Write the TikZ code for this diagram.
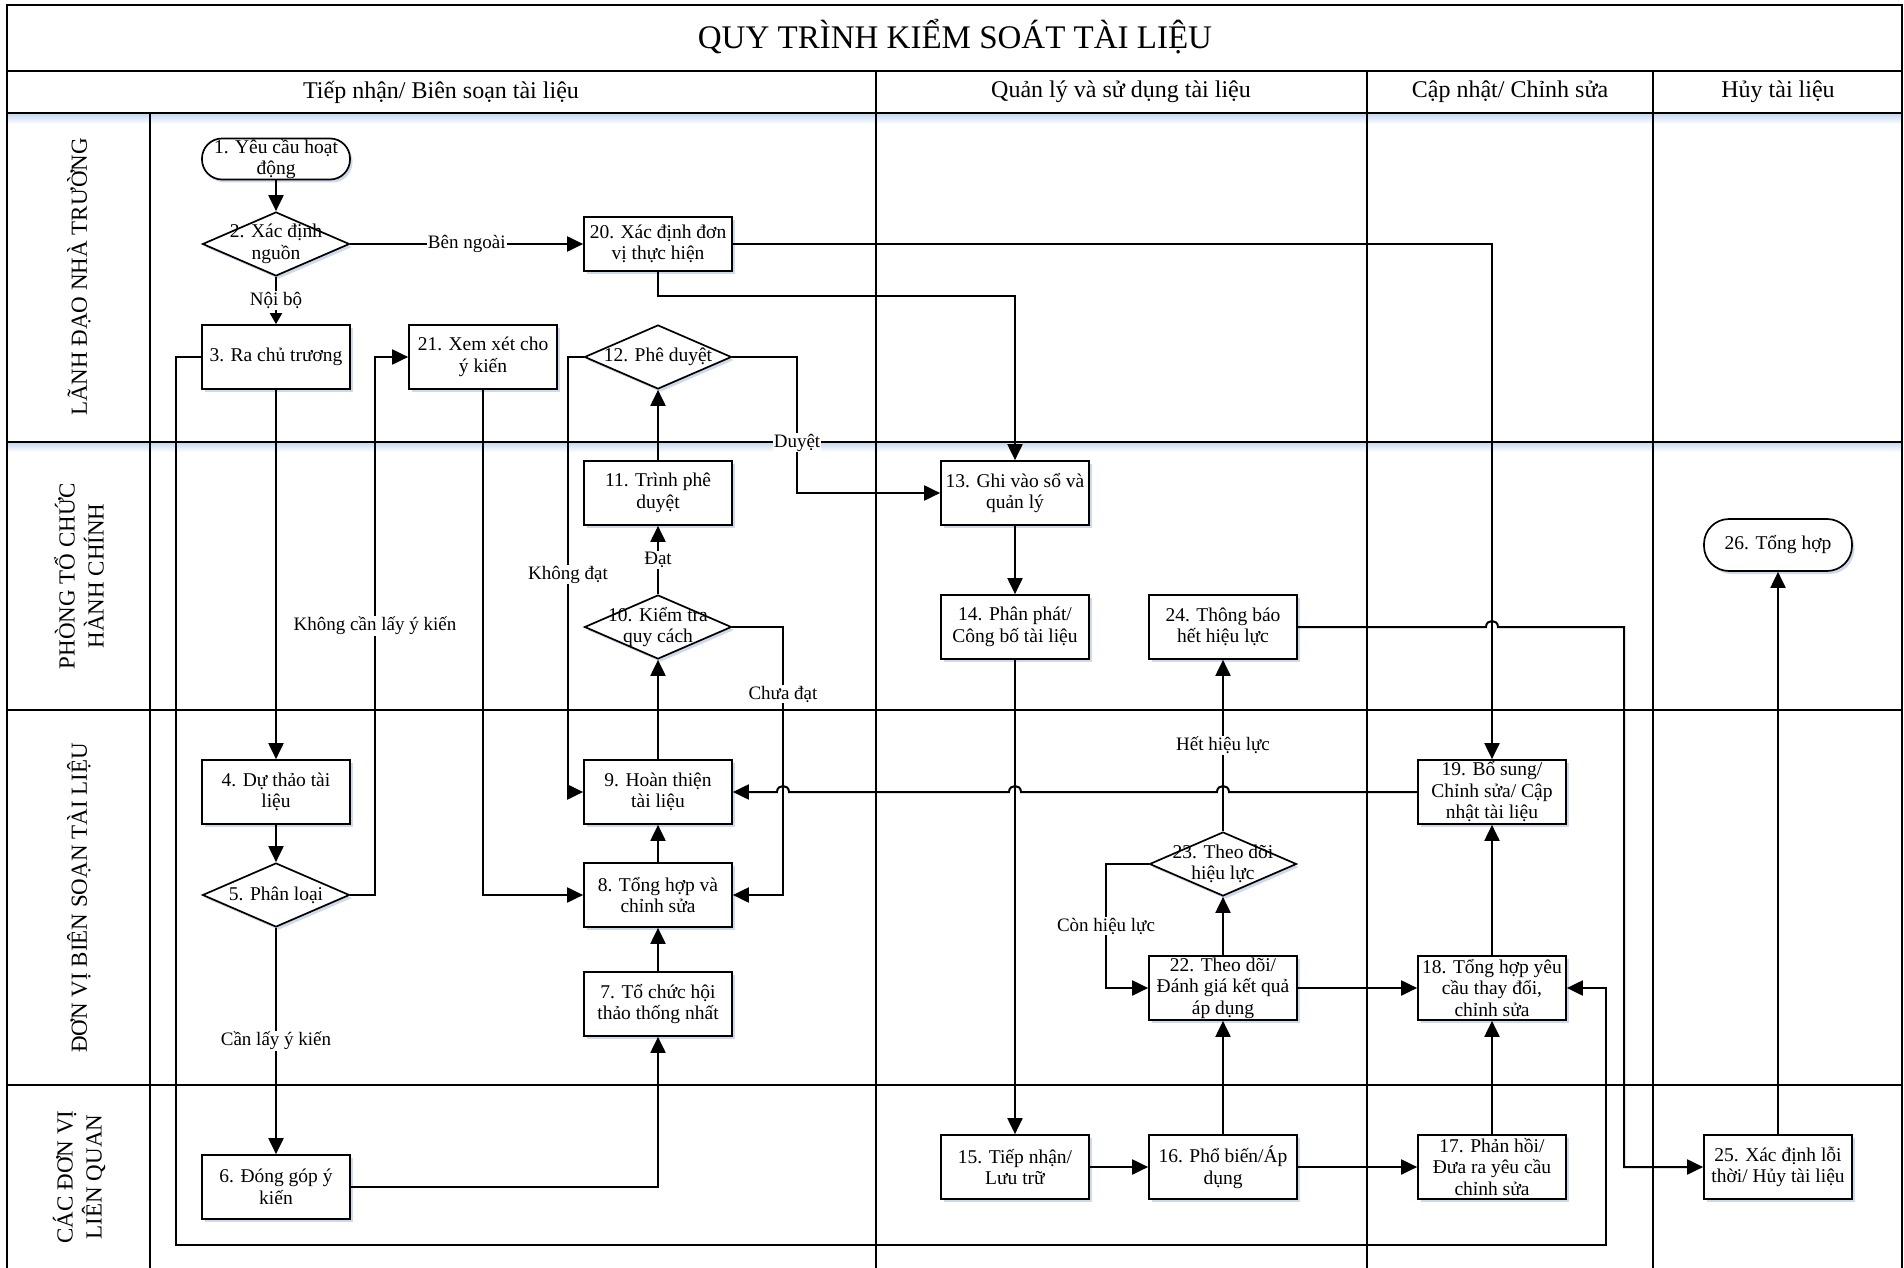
\documentclass[tikz,border=0pt]{standalone}
\usepackage{fontspec}
\setmainfont{Liberation Serif}
\usetikzlibrary{arrows.meta,shapes.geometric,shadows}
\definecolor{shadowc}{RGB}{165,185,215}
\definecolor{glowc}{RGB}{200,218,240}
\begin{document}
\begin{tikzpicture}[x=1pt,y=-1pt,
  nodefont/.style={font=\fontsize{19.5}{21.5}\selectfont},
  shad/.style={drop shadow={shadow xshift=2.5pt,shadow yshift=-3pt,fill=shadowc,opacity=0.55}},
  box/.style={rectangle,draw,line width=1.7pt,fill=white,minimum width=148pt,minimum height=64pt,inner sep=0pt,align=center,nodefont,shad},
  term/.style={box,rounded corners=20pt,minimum height=41pt},
  dmd/.style={diamond,draw,line width=1.7pt,fill=white,minimum width=147pt,minimum height=64pt,inner sep=0pt,shad,label={[nodefont,align=center,inner sep=0pt]center:{#1}}},
  lab/.style={fill=white,inner sep=1pt,font=\fontsize{19}{21}\selectfont},
  conn/.style={line width=2pt,-{Triangle[length=16pt,width=15pt]}},
  connsmall/.style={line width=2pt,-{Triangle[length=11pt,width=12pt]}},
  lanefont/.style={font=\fontsize{23}{29}\selectfont},
  struct/.style={line width=2.3pt},
  divider/.style={line width=1.5pt},
]
\useasboundingbox (0,0) rectangle (1904,1268);
\clip (0,0) rectangle (1904,1268);

% glow under header / lane lines
\shade[top color=glowc, bottom color=white] (8,114) rectangle (1901,124);
\shade[top color=glowc, bottom color=white] (8,443) rectangle (1901,452);

% frame
\draw[struct] (7,5) rectangle (1902,1280);
\draw[struct] (7,71) -- (1902,71);
\draw[struct] (7,113) -- (1902,113);
\draw[divider] (876,71) -- (876,1280);
\draw[divider] (1367,71) -- (1367,1280);
\draw[divider] (1653,71) -- (1653,1280);
\draw[struct] (150,113) -- (150,1280);
\draw[struct] (7,442) -- (1902,442);
\draw[struct] (7,710) -- (1902,710);
\draw[struct] (7,1085) -- (1902,1085);

% titles
\node[font=\fontsize{33}{36}\selectfont] (title) at (955,37) {QUY TRÌNH KIỂM SOÁT TÀI LIỆU};
\node[font=\fontsize{24}{26}\selectfont] (h1) at (441,92) {Tiếp nhận/ Biên soạn tài liệu};
\node[font=\fontsize{24}{26}\selectfont] (h2) at (1121,92) {Quản lý và sử dụng tài liệu};
\node[font=\fontsize{24}{26}\selectfont] (h3) at (1510,92) {Cập nhật/ Chỉnh sửa};
\node[font=\fontsize{24}{26}\selectfont] (h4) at (1778,92) {Hủy tài liệu};

% lane labels
\node[lanefont,rotate=90,align=center] (L1) at (79,277) {LÃNH ĐẠO NHÀ TRƯỜNG};
\node[lanefont,rotate=90,align=center] (L2) at (79,576) {PHÒNG TỔ CHỨC\\HÀNH CHÍNH};
\node[lanefont,rotate=90,align=center] (L3) at (79,898) {ĐƠN VỊ BIÊN SOẠN TÀI LIỆU};
\node[lanefont,rotate=90,align=center] (L4) at (79,1177) {CÁC ĐƠN VỊ\\LIÊN QUAN};

% nodes
\node[term] (n1) at (276,159) {1. Yêu cầu hoạt\\động};
\node[dmd={2. Xác định\\nguồn}] (n2) at (276,244) {};
\node[box,minimum height=54pt] (n20) at (658,244) {20. Xác định đơn\\vị thực hiện};
\node[box] (n3) at (276,357) {3. Ra chủ trương};
\node[box] (n21) at (483,357) {21. Xem xét cho\\ý kiến};
\node[dmd={12. Phê duyệt}] (n12) at (658,357) {};
\node[box] (n11) at (658,493) {11. Trình phê\\duyệt};
\node[dmd={10. Kiểm tra\\quy cách}] (n10) at (658,627) {};
\node[box] (n13) at (1015,493) {13. Ghi vào sổ và\\quản lý};
\node[box] (n14) at (1015,627) {14. Phân phát/\\Công bố tài liệu};
\node[box] (n24) at (1223,627) {24. Thông báo\\hết hiệu lực};
\node[term,minimum height=52pt,rounded corners=25pt] (n26) at (1778,545) {26. Tổng hợp};
\node[box] (n4) at (276,792) {4. Dự thảo tài\\liệu};
\node[box] (n9) at (658,792) {9. Hoàn thiện\\tài liệu};
\node[box] (n19) at (1492,792) {19. Bổ sung/\\Chỉnh sửa/ Cập\\nhật tài liệu};
\node[dmd={5. Phân loại}] (n5) at (276,895) {};
\node[box] (n8) at (658,895) {8. Tổng hợp và\\chỉnh sửa};
\node[dmd={23. Theo dõi\\hiệu lực}] (n23) at (1223,864) {};
\node[box] (n22) at (1223,988) {22. Theo dõi/\\Đánh giá kết quả\\áp dụng};
\node[box] (n18) at (1492,988) {18. Tổng hợp yêu\\cầu thay đổi,\\chỉnh sửa};
\node[box] (n7) at (658,1004) {7. Tổ chức hội\\thảo thống nhất};
\node[box] (n15) at (1015,1167) {15. Tiếp nhận/\\Lưu trữ};
\node[box] (n16) at (1223,1167) {16. Phổ biến/Áp\\dụng};
\node[box] (n17) at (1492,1167) {17. Phản hồi/\\Đưa ra yêu cầu\\chỉnh sửa};
\node[box] (n25) at (1778,1167) {25. Xác định lỗi\\thời/ Hủy tài liệu};
\node[box] (n6) at (276,1187) {6. Đóng góp ý\\kiến};

% connectors
\draw[conn] (n1.south) -- (n2.north);
\draw[connsmall] (n2.south) -- node[lab]{Nội bộ} (n3.north);
\draw[conn] (n2.east) -- node[lab]{Bên ngoài} (n20.west);
\draw[conn] (n20.east) -| (n19.north);
\draw[conn] (n20.south) -- (658,296) -| (n13.north);
\draw[conn] (n3.south) -- (n4.north);
\draw[conn] (n3.west) -- (176,357) -- (176,1245) -- (1606,1245) -- (1606,988) -- (n18.east);
\draw[conn] (n4.south) -- (n5.north);
\draw[conn] (n5.south) -- node[lab]{Cần lấy ý kiến} (n6.north);
\draw[conn] (n5.east) -- (375,895) -- node[lab]{Không cần lấy ý kiến} (375,357) -- (n21.west);
\draw[conn] (n6.east) -| (n7.south);
\draw[conn] (n7.north) -- (n8.south);
\draw[conn] (n8.north) -- (n9.south);
\draw[conn] (n9.north) -- (n10.south);
\draw[conn] (n10.north) -- node[lab]{Đạt} (n11.south);
\draw[conn] (n11.north) -- (n12.south);
\draw[conn] (n12.east) -- (797,357) -- node[lab,pos=0.63]{Duyệt} (797,493) -- (n13.west);
\draw[conn] (n12.west) -- (568,357) -- node[lab]{Không đạt} (568,792) -- (n9.west);
\draw[conn] (n10.east) -- (783,627) -- node[lab,pos=0.25]{Chưa đạt} (783,895) -- (n8.east);
\draw[conn] (n21.south) |- (n8.west);
\draw[conn] (n13.south) -- (n14.north);
\draw[conn] (n14.south) -- (n15.north);
\draw[conn] (n15.east) -- (n16.west);
\draw[conn] (n16.north) -- (n22.south);
\draw[conn] (n16.east) -- (n17.west);
\draw[conn] (n17.north) -- (n18.south);
\draw[conn] (n22.east) -- (n18.west);
\draw[conn] (n22.north) -- (n23.south);
\draw[conn] (n23.north) -- node[lab]{Hết hiệu lực} (n24.south);
\draw[conn] (n23.west) -- (1106,864) -- node[lab]{Còn hiệu lực} (1106,988) -- (n22.west);
\draw[conn] (n18.north) -- (n19.south);
\draw[conn] (n19.west) -- (1229,792) .. controls (1229,784) and (1217,784) .. (1217,792)
  -- (1021,792) .. controls (1021,784) and (1009,784) .. (1009,792)
  -- (789,792) .. controls (789,784) and (777,784) .. (777,792) -- (n9.east);
\draw[conn] (n24.east) -- (1486,627) .. controls (1486,619) and (1498,619) .. (1498,627)
  -- (1624,627) -- (1624,1167) -- (n25.west);
\draw[conn] (n25.north) -- (n26.south);
\end{tikzpicture}
\end{document}
